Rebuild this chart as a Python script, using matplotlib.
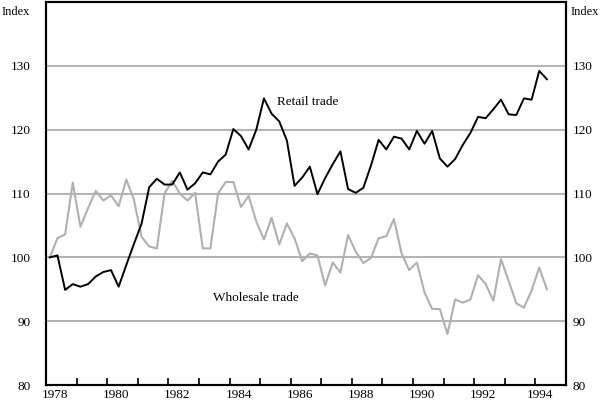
import numpy as np
import matplotlib
matplotlib.use("Agg")
import matplotlib.pyplot as plt

plt.rcParams['font.family'] = ['Liberation Serif', 'DejaVu Serif']

# Quarterly data, 1978 Q1 to 1994 Q2
start_year = 1978
retail = [100.0, 100.3, 94.9, 95.8, 95.4, 95.8, 97.0, 97.7, 98.0, 95.4,
          98.8, 102.1, 105.3, 111.0, 112.3, 111.4, 111.4, 113.3, 110.6, 111.6,
          113.3, 113.0, 115.0, 116.1, 120.1, 119.0, 116.9, 120.0, 124.9, 122.5,
          121.3, 118.3, 111.2, 112.5, 114.2, 109.9, 112.4, 114.6, 116.6, 110.7,
          110.1, 110.9, 114.4, 118.4, 116.9, 118.9, 118.6, 116.9, 119.8, 117.8,
          119.8, 115.5, 114.2, 115.4, 117.6, 119.5, 122.0, 121.8, 123.2, 124.7,
          122.4, 122.3, 124.9, 124.7, 129.2, 127.9]
wholesale = [100.0, 103.0, 103.6, 111.7, 104.8, 107.7, 110.4, 108.9, 109.7, 108.0,
             112.2, 109.0, 103.2, 101.7, 101.4, 110.0, 112.0, 110.0, 108.9, 110.1,
             101.4, 101.4, 110.0, 111.8, 111.8, 107.9, 109.6, 105.6, 102.8, 106.2,
             102.0, 105.3, 103.0, 99.4, 100.6, 100.3, 95.6, 99.2, 97.6, 103.5,
             100.9, 99.1, 99.9, 103.0, 103.3, 106.0, 100.6, 98.0, 99.2, 94.5,
             91.9, 91.9, 88.0, 93.4, 92.9, 93.4, 97.2, 95.8, 93.2, 99.7,
             96.3, 92.8, 92.1, 94.8, 98.4, 95.0]
year_labels = [1978, 1980, 1982, 1984, 1986, 1988, 1990, 1992, 1994]
y_ticks = [80, 90, 100, 110, 120, 130]
grid_values = [90, 100, 110, 120, 130]

t = start_year + (np.arange(len(retail)) + 0.5) / 4.0

fig = plt.figure(figsize=(6.0, 4.03), dpi=100)
ax = fig.add_axes([46/600, 18/403, 520/600, 383/403])

for g in grid_values:
    ax.axhline(g, color='#b4b4b4', lw=1.5, zorder=1)

ax.plot(t, wholesale, color='#b0b0b0', lw=1.5, zorder=2)
ax.plot(t, retail, color='black', lw=1.4, zorder=3)

ax.set_xlim(1978, 1995)
ax.set_ylim(80, 140)

# x axis: inward year ticks, labels between
ax.set_xticks(np.arange(1979, 1995), labels=[])
ax.tick_params(axis='x', which='major', direction='in', length=5, width=1.2, color='black')
lab_pos = [y + 0.3 for y in year_labels[:-1]] + [year_labels[-1] + 0.15]
ax.set_xticks(lab_pos, labels=[str(y) for y in year_labels], minor=True)
ax.tick_params(axis='x', which='minor', length=0, pad=3, labelsize=9.5)

ax.set_yticks(y_ticks, labels=[str(v) for v in y_ticks])
ax.tick_params(axis='y', length=0, pad=11, labelsize=9.5)

ax2 = ax.twinx()
ax2.set_ylim(80, 140)
ax2.set_yticks(y_ticks, labels=[str(v) for v in y_ticks])
ax2.tick_params(axis='y', length=0, pad=5, labelsize=9.5)

for a in (ax, ax2):
    for s in a.spines.values():
        s.set_linewidth(1.5)
        s.set_color('black')

ax.text(1985.55, 124.4, 'Retail trade', fontsize=9.5, ha='left', va='center')
ax.text(1983.47, 93.7, 'Wholesale trade', fontsize=9.5, ha='left', va='center')

fig.text(2/600, 1 - 12/403, 'Index', fontsize=9, ha='left', va='center')
fig.text(599/600, 1 - 12/403, 'Index', fontsize=9, ha='right', va='center')

fig.savefig('out.png', dpi=100)
